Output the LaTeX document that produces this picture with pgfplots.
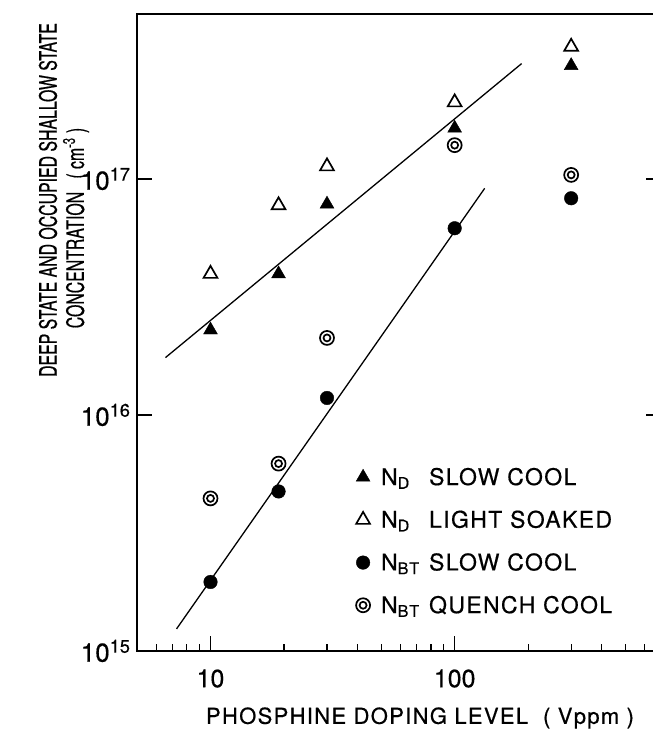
\documentclass[border=0pt]{standalone}
\usepackage{fontspec}
\setmainfont[FakeBold=0.5]{TeX Gyre Heros}
\newfontfamily\lblfont[LetterSpace=6, FakeBold=0.5]{TeX Gyre Heros}
\newfontfamily\condfont[FakeStretch=0.66, FakeBold=0.6]{TeX Gyre Heros}
\usepackage{pgfplots}
\pgfplotsset{compat=1.18}
\usetikzlibrary{calc}

% open circle with an inner ring (quench cool)
\pgfdeclareplotmark{dblcirc}{%
  \pgfpathcircle{\pgfpointorigin}{\pgfplotmarksize}\pgfusepathqstroke
  \pgfpathcircle{\pgfpointorigin}{0.5\pgfplotmarksize}\pgfusepathqstroke}

\begin{document}
\begin{tikzpicture}
\begin{axis}[
  scale only axis, width=524pt, height=637pt,
  xmode=log, ymode=log,
  xmin=5, xmax=700, ymin=1e15, ymax=5e17,
  axis line style={line width=1.2pt},
  xtick={10,100}, xticklabels={10,100},
  minor xtick={6,7,8,9,20,30,40,50,60,70,80,90,200,300,400,500,600},
  ytick={1e15,1e16,1e17},
  yticklabels={10\textsuperscript{15},10\textsuperscript{16},10\textsuperscript{17}},
  yminorticks=false,
  tick align=inside, xtick pos=left,
  major tick length=15pt, minor tick length=7pt,
  every tick/.style={line width=1.2pt, black},
  xticklabel style={font=\fontsize{25}{28}\selectfont, yshift=-15pt},
  yticklabel style={font=\fontsize{26}{28}\selectfont, xshift=-3pt},
  legend style={draw=none, fill=none, at={(rel axis cs:0.412,0.294)}, anchor=north west,
    font=\lblfont\fontsize{23}{26}\selectfont, row sep=20pt,
    /tikz/every odd column/.append style={column sep=9pt}},
  legend cell align=left,
]
\coordinate (SW) at (rel axis cs:0,0);

% fit lines
\addplot[line width=1.3pt, forget plot] coordinates {(6.54,1.75e16) (188,3.08e17)};
\addplot[line width=1.3pt, forget plot] coordinates {(7.26,1.24e15) (132.7,9.12e16)};

% N_D slow cool
\addplot[only marks, mark=triangle*, mark size=8pt, black] coordinates {
  (10,2.29e16) (19,3.96e16) (30,7.82e16) (100,1.64e17) (300,3.02e17)};
% N_D light soaked
\addplot[only marks, mark=triangle, mark size=8pt, black, mark options={line width=1.7pt}] coordinates {
  (10,3.96e16) (19,7.73e16) (30,1.13e17) (100,2.11e17) (300,3.63e17)};
% N_BT slow cool
\addplot[only marks, mark=*, mark size=6.8pt, black] coordinates {
  (10,1.96e15) (19,4.74e15) (30,1.18e16) (100,6.18e16) (300,8.28e16)};
% N_BT quench cool
\addplot[only marks, mark=dblcirc, mark size=7pt, black, mark options={line width=1.7pt}] coordinates {
  (10,4.43e15) (19,6.22e15) (30,2.12e16) (100,1.39e17) (300,1.04e17)};

\legend{\makebox[48pt][l]{N\textsubscript{D}}SLOW COOL,
        \makebox[48pt][l]{N\textsubscript{D}}LIGHT SOAKED,
        \makebox[48pt][l]{N\textsubscript{BT}}SLOW COOL,
        \makebox[48pt][l]{N\textsubscript{BT}}QUENCH COOL}
\end{axis}

\node[font=\condfont\fontsize{24}{28}\selectfont, rotate=90] at ($(SW)+(-89pt,451pt)$)
  {DEEP STATE AND OCCUPIED SHALLOW STATE};
\node[font=\condfont\fontsize{24}{28}\selectfont, rotate=90] at ($(SW)+(-61pt,423pt)$)
  {CONCENTRATION\ \ \ ( cm\textsuperscript{-3} )};
\node[font=\lblfont\fontsize{22}{26}\selectfont] at ($(SW)+(283pt,-67pt)$)
  {PHOSPHINE DOPING LEVEL\ \ ( Vppm )};

\pgfresetboundingbox
\useasboundingbox ($(SW)+(-137pt,-86pt)$) rectangle ($(SW)+(516pt,651pt)$);
\end{tikzpicture}
\end{document}
